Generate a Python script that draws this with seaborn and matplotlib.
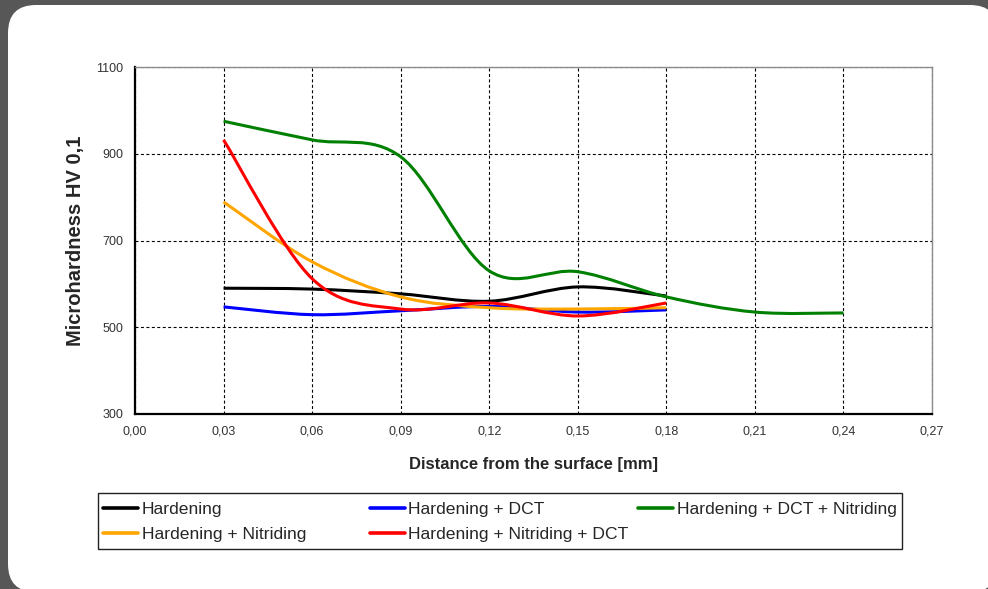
import matplotlib
matplotlib.use("Agg")
import matplotlib.pyplot as plt
import seaborn as sns
import numpy as np
import pandas as pd
from matplotlib.path import Path
from matplotlib.patches import PathPatch, FancyBboxPatch, Rectangle
from matplotlib.lines import Line2D
from matplotlib.ticker import FuncFormatter, MultipleLocator
from matplotlib.transforms import IdentityTransform

# measured points (distance in mm, HV 0,1)
depth = [0.03, 0.06, 0.09, 0.12, 0.15, 0.18]
depth_long = [0.03, 0.06, 0.09, 0.12, 0.15, 0.18, 0.21, 0.24]

hardening = [590, 588, 577, 560, 593, 572]
hardening_dct = [547, 529, 538, 548, 535, 540]
hardening_dct_nitr = [975, 932, 893, 630, 628, 570, 535, 533]
hardening_nitr = [789, 651, 570, 545, 542, 545]
hardening_nitr_dct = [932, 612, 542, 556, 526, 556]

y_ticks = [300, 500, 700, 900, 1100]

series = {
    'Hardening': (depth, hardening),
    'Hardening + DCT': (depth, hardening_dct),
    'Hardening + DCT + Nitriding': (depth_long, hardening_dct_nitr),
    'Hardening + Nitriding': (depth, hardening_nitr),
    'Hardening + Nitriding + DCT': (depth, hardening_nitr_dct),
}
colors = {
    'Hardening': '#000000',
    'Hardening + DCT': '#0000FF',
    'Hardening + DCT + Nitriding': '#008000',
    'Hardening + Nitriding': '#FFA500',
    'Hardening + Nitriding + DCT': '#FF0000',
}
legend_cols = [['Hardening', 'Hardening + Nitriding'],
               ['Hardening + DCT', 'Hardening + Nitriding + DCT'],
               ['Hardening + DCT + Nitriding']]


def smooth_path(x, y):
    # Excel-style smoothed line: cubic Bezier segments through the points
    pts = np.column_stack([x, y]).astype(float)
    ext = np.vstack([pts[0], pts, pts[-1]])
    verts = [pts[0]]
    codes = [Path.MOVETO]
    for i in range(len(pts) - 1):
        p0, p1, p2, p3 = ext[i], ext[i + 1], ext[i + 2], ext[i + 3]
        verts += [p1 + (p2 - p0) / 6, p2 - (p3 - p1) / 6, p2]
        codes += [Path.CURVE4] * 3
    return Path(verts, codes)


sns.set_style("white")
plt.rcParams['font.family'] = ['Liberation Sans', 'DejaVu Sans']

rows = []
for name, (xs, ys) in series.items():
    for xv, yv in zip(xs, ys):
        rows.append({'depth': xv, 'hv': yv, 'series': name})
df = pd.DataFrame(rows)

W, H = 988, 589
fig = plt.figure(figsize=(W / 100, H / 100), dpi=100, facecolor='#575757')
panel = FancyBboxPatch((8, -3), 990, 587, boxstyle="round,pad=0,rounding_size=28",
                       transform=IdentityTransform(), facecolor='white',
                       edgecolor='none', zorder=-10)
fig.patches.append(panel)

ax = fig.add_axes([135 / W, 1 - 414 / H, 797 / W, 347 / H])
ax.set_facecolor('white')

sns.lineplot(data=df, x='depth', y='hv', hue='series', palette=colors,
             hue_order=list(series.keys()), estimator=None, sort=False,
             linewidth=2.2, legend=False, ax=ax)
for ln in ax.lines:
    ln.set_visible(False)

for name, (xs, ys) in series.items():
    ax.add_patch(PathPatch(smooth_path(xs, ys), facecolor='none',
                           edgecolor=colors[name], lw=2.2, zorder=3))

ax.set_xlim(0, 0.27)
ax.set_ylim(300, 1100)
ax.xaxis.set_major_locator(MultipleLocator(0.03))
ax.set_yticks(y_ticks)
ax.xaxis.set_major_formatter(FuncFormatter(lambda v, p: f"{v:.2f}".replace('.', ',')))
ax.yaxis.set_major_formatter(FuncFormatter(lambda v, p: f"{v:.0f}"))
ax.grid(True, color='black', linestyle=(0, (2.7, 2.2)), linewidth=0.8)
ax.set_axisbelow(True)

for side in ['left', 'bottom']:
    ax.spines[side].set_color('black')
    ax.spines[side].set_linewidth(1.6)
for side in ['top', 'right']:
    ax.spines[side].set_color('#8c8c8c')
    ax.spines[side].set_linewidth(1.0)

ax.tick_params(direction='inout', length=5, width=1.2, color='black',
               labelcolor='#333333', labelsize=9, pad=6)

ax.set_xlabel('Distance from the surface [mm]', fontsize=12, fontweight='bold')
ax.set_ylabel('Microhardness HV 0,1', fontsize=14.5, fontweight='bold')
ax.xaxis.set_label_coords(0.5, -0.124)
ax.yaxis.set_label_coords(-0.063, 0.5)

# legend: three columns at fixed positions inside one frame
fig.patches.append(Rectangle((98, H - 549), 804, 56, transform=IdentityTransform(),
                             facecolor='white', edgecolor='#222222', lw=1.0, zorder=1))
for col, x0 in zip(legend_cols, [103, 370, 638]):
    hs = [Line2D([], [], color=colors[n], lw=2.6) for n in col]
    fig.legend(hs, col, loc='upper left', bbox_to_anchor=(x0 / W, 1 - 502 / H),
               frameon=False, fontsize=12.6, handlelength=2.0, handletextpad=0.2,
               labelspacing=0.55, borderpad=0, borderaxespad=0)

fig.savefig('out.png', dpi=100, facecolor=fig.get_facecolor())
